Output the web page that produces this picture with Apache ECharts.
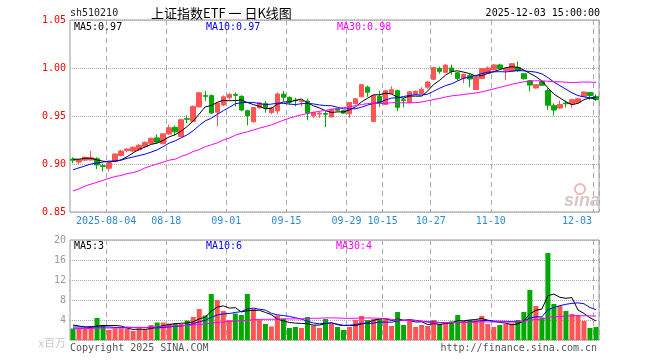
<!DOCTYPE html>
<html><head><meta charset="utf-8">
<script src="https://cdn.jsdelivr.net/npm/echarts@6/dist/echarts.min.js"></script>
<style>html,body{margin:0;padding:0;background:#fff}#c{width:660px;height:360px}</style>
</head><body><div id="c"></div>
<script>
// ---- data ----
const dates = [
 '2025-07-25','2025-07-28','2025-07-29','2025-07-30','2025-07-31','2025-08-01',
 '2025-08-04','2025-08-05','2025-08-06','2025-08-07','2025-08-08',
 '2025-08-11','2025-08-12','2025-08-13','2025-08-14','2025-08-15',
 '2025-08-18','2025-08-19','2025-08-20','2025-08-21','2025-08-22',
 '2025-08-25','2025-08-26','2025-08-27','2025-08-28','2025-08-29',
 '2025-09-01','2025-09-02','2025-09-03','2025-09-04','2025-09-05',
 '2025-09-08','2025-09-09','2025-09-10','2025-09-11','2025-09-12',
 '2025-09-15','2025-09-16','2025-09-17','2025-09-18','2025-09-19',
 '2025-09-22','2025-09-23','2025-09-24','2025-09-25','2025-09-26',
 '2025-09-29','2025-09-30','2025-10-09','2025-10-10',
 '2025-10-13','2025-10-14','2025-10-15','2025-10-16','2025-10-17',
 '2025-10-20','2025-10-21','2025-10-22','2025-10-23','2025-10-24',
 '2025-10-27','2025-10-28','2025-10-29','2025-10-30','2025-10-31',
 '2025-11-03','2025-11-04','2025-11-05','2025-11-06','2025-11-07',
 '2025-11-10','2025-11-11','2025-11-12','2025-11-13','2025-11-14',
 '2025-11-17','2025-11-18','2025-11-19','2025-11-20','2025-11-21',
 '2025-11-24','2025-11-25','2025-11-26','2025-11-27','2025-11-28',
 '2025-12-01','2025-12-02','2025-12-03'
];
const opens = [
 0.9050,0.9020,0.9040,0.9042,0.9055,0.8982,0.8955,0.9025,0.9088,0.9140,
 0.9135,0.9148,0.9184,0.9215,0.9272,0.9211,0.9312,0.9382,0.9285,0.9472,
 0.9444,0.9595,0.9712,0.9712,0.9540,0.9615,0.9690,0.9725,0.9705,0.9555,
 0.9440,0.9585,0.9630,0.9535,0.9552,0.9728,0.9694,0.9665,0.9650,0.9655,
 0.9503,0.9520,0.9525,0.9490,0.9575,0.9555,0.9524,0.9628,0.9700,0.9800,
 0.9444,0.9705,0.9620,0.9735,0.9764,0.9670,0.9642,0.9729,0.9732,0.9800,
 0.9882,0.9995,0.9955,1.0000,0.9950,0.9893,0.9920,0.9775,0.9890,0.9945,
 0.9982,1.0032,0.9975,0.9965,1.0005,0.9940,0.9868,0.9792,0.9858,0.9765,
 0.9608,0.9583,0.9635,0.9625,0.9640,0.9705,0.9745,0.9702
];
const closes = [
 0.9040,0.9045,0.9070,0.9065,0.8990,0.8975,0.9012,0.9104,0.9135,0.9156,
 0.9175,0.9195,0.9225,0.9268,0.9228,0.9314,0.9378,0.9335,0.9461,0.9466,
 0.9600,0.9742,0.9705,0.9531,0.9635,0.9700,0.9725,0.9715,0.9562,0.9505,
 0.9588,0.9636,0.9584,0.9585,0.9729,0.9695,0.9643,0.9660,0.9660,0.9531,
 0.9538,0.9530,0.9518,0.9570,0.9560,0.9530,0.9640,0.9680,0.9826,0.9748,
 0.9712,0.9640,0.9764,0.9774,0.9590,0.9660,0.9752,0.9757,0.9778,0.9855,
 1.0005,0.9965,1.0030,0.9965,0.9890,0.9935,0.9885,0.9900,0.9993,1.0000,
 1.0032,0.9995,0.9995,1.0045,0.9970,0.9888,0.9822,0.9826,0.9820,0.9612,
 0.9562,0.9620,0.9628,0.9670,0.9680,0.9750,0.9712,0.9672
];
const lows = [
 0.9010,0.9000,0.9030,0.9035,0.8948,0.8923,0.8923,0.9020,0.9080,0.9121,
 0.9125,0.9135,0.9178,0.9205,0.9215,0.9205,0.9305,0.9300,0.9280,0.9427,
 0.9440,0.9590,0.9655,0.9520,0.9392,0.9605,0.9670,0.9600,0.9550,0.9402,
 0.9430,0.9575,0.9535,0.9520,0.9520,0.9655,0.9620,0.9600,0.9600,0.9455,
 0.9480,0.9480,0.9385,0.9485,0.9550,0.9525,0.9480,0.9620,0.9695,0.9700,
 0.9440,0.9595,0.9615,0.9730,0.9550,0.9590,0.9635,0.9720,0.9725,0.9780,
 0.9875,0.9940,0.9950,0.9930,0.9870,0.9840,0.9800,0.9770,0.9885,0.9940,
 0.9975,0.9985,0.9875,0.9960,0.9960,0.9880,0.9757,0.9785,0.9815,0.9565,
 0.9505,0.9575,0.9590,0.9585,0.9635,0.9700,0.9670,0.9655
];
const highs = [
 0.9070,0.9050,0.9075,0.9135,0.9070,0.9003,0.9015,0.9110,0.9150,0.9166,
 0.9182,0.9208,0.9238,0.9275,0.9310,0.9320,0.9410,0.9400,0.9470,0.9506,
 0.9610,0.9752,0.9760,0.9725,0.9645,0.9715,0.9740,0.9745,0.9715,0.9565,
 0.9592,0.9645,0.9655,0.9590,0.9745,0.9760,0.9705,0.9690,0.9670,0.9680,
 0.9545,0.9545,0.9548,0.9575,0.9580,0.9560,0.9645,0.9685,0.9835,0.9815,
 0.9720,0.9765,0.9775,0.9810,0.9775,0.9690,0.9760,0.9765,0.9800,0.9860,
 1.0010,1.0015,1.0040,1.0035,0.9960,0.9940,0.9940,0.9905,1.0000,1.0015,
 1.0040,1.0045,1.0010,1.0052,1.0068,0.9945,0.9875,0.9830,0.9865,0.9790,
 0.9630,0.9660,0.9660,0.9680,0.9690,0.9755,0.9750,0.9725
];
// volume in millions of shares
const volumes = [
 2.3,2.2,2.2,2.8,4.4,3.0,2.0,2.3,2.3,2.2,
 1.8,2.3,2.1,3.0,3.5,3.5,3.3,3.2,3.2,3.9,
 4.6,6.2,4.9,9.2,8.0,5.8,4.0,5.3,5.0,9.2,
 6.2,4.0,3.2,2.7,4.9,4.3,2.4,2.6,2.4,4.6,
 2.9,2.4,4.2,3.2,2.6,2.0,2.6,4.0,4.8,4.0,
 4.2,4.2,4.2,2.8,5.6,3.0,4.0,2.6,3.0,2.8,
 4.0,3.2,3.5,3.7,5.0,3.8,4.0,4.0,4.8,3.2,
 2.6,3.0,3.2,3.3,4.0,5.6,10.0,6.8,4.5,17.4,
 7.2,6.8,5.8,5.2,5.0,3.8,2.4,2.6
];
// moving-average values before enough history exists
const ma5Head  = [0.905,0.905,0.906,0.906];
const ma10Head = [0.894,0.896,0.898,0.900,0.901,0.902,0.903,0.903,0.904];
const ma30Head = [0.872,0.874,0.877,0.879,0.881,0.883,0.885,0.887,0.888,0.890,
                  0.891,0.893,0.896,0.898,0.900,0.902,0.904,0.905,0.908,0.910,
                  0.913,0.915,0.918,0.920,0.922,0.925,0.927,0.930,0.932];
const vma5Head  = [3.0,2.8,2.6,2.6];
const vma10Head = [2.6,2.6,2.6,2.6,2.6,2.6,2.6,2.5,2.5];
const vma30Head = [2.3,2.3,2.3,2.3,2.4,2.4,2.4,2.4,2.4,2.4,
                   2.5,2.5,2.5,2.6,2.6,2.7,2.8,2.8,2.9,2.9,
                   3.0,3.1,3.2,3.4,3.5,3.6,3.7,3.8,3.8];
const tickDates = ['2025-08-04','2025-08-18','2025-09-01','2025-09-15','2025-09-29',
                   '2025-10-15','2025-10-27','2025-11-10','2025-12-03'];
const priceTicks = [0.85,0.90,0.95,1.00,1.05];
const volTicks = [0,4,8,12,16,20];
const priceLegend = ['MA5:0.97','MA10:0.97','MA30:0.98'];
const volLegend = ['MA5:3','MA10:6','MA30:4'];
const headerCode = 'sh510210';
const headerTitle = '上证指数ETF 一 日K线图';
const headerTime = '2025-12-03 15:00:00';

// ---- helpers ----
function movingAvg(src, n, head) {
  return src.map((_, i) => {
    if (i < n - 1) return head[i];
    let s = 0;
    for (let k = i - n + 1; k <= i; k++) s += src[k];
    return +(s / n).toFixed(4);
  });
}
const RED = '#ff5555', GREEN = '#00a800';
const MONO = '"DejaVu Sans Mono", "Liberation Mono", monospace';
const tickIdx = tickDates.map(d => dates.indexOf(d));
const isTick = i => tickIdx.indexOf(i) >= 0;
const lastIdx = dates.length - 1;

const candleData = dates.map((d, i) => [opens[i], closes[i], lows[i], highs[i]]);
const volData = volumes.map((v, i) => ({ value: v, itemStyle: { color: closes[i] >= opens[i] ? RED : GREEN } }));

const chart = echarts.init(document.getElementById('c'), null, { renderer: 'canvas' });
const splitX = { show: true, interval: (i) => isTick(i), lineStyle: { color: '#aaa', type: [5, 4], width: 1 } };
const lineS = (name, data, color, xi, yi) => ({
  name, type: 'line', data, xAxisIndex: xi, yAxisIndex: yi, symbol: 'none', smooth: false,
  lineStyle: { color, width: 1 }, itemStyle: { color }, z: 5, silent: true
});

function txt(x, y, text, fill, font, align) {
  return { type: 'text', x, y, silent: true, z: 100,
    style: { text, fill, font, textAlign: align || 'left', align: align || 'left',
             textVerticalAlign: 'middle', verticalAlign: 'middle' } };
}

chart.setOption({
  animation: false,
  backgroundColor: '#fff',
  grid: [
    { left: 70, top: 20, width: 529, height: 192, show: true, borderColor: '#999', borderWidth: 1 },
    { left: 70, top: 240, width: 529, height: 100, show: true, borderColor: '#999', borderWidth: 1 }
  ],
  xAxis: [
    { type: 'category', data: dates, gridIndex: 0, boundaryGap: true,
      axisLine: { show: false }, axisTick: { show: false },
      splitLine: splitX,
      axisLabel: { show: true, interval: (i) => isTick(i), margin: 4, color: '#2e8bd0',
        fontFamily: MONO, fontSize: 10,
        formatter: (v, i) => {
          if (v === tickDates[0]) return '{n|' + v + '}';
          if (v === dates[lastIdx]) return '{r|' + v.slice(5) + '}';
          return '{n|' + v.slice(5) + '}';
        },
        rich: {
          n: { color: '#2e8bd0', fontFamily: MONO, fontSize: 10, padding: [0, 6, 0, 0] },
          r: { color: '#2e8bd0', fontFamily: MONO, fontSize: 10, padding: [0, 38, 0, 0] }
        }
      } },
    { type: 'category', data: dates, gridIndex: 1, boundaryGap: true,
      axisLine: { show: false }, axisTick: { show: false }, axisLabel: { show: false },
      splitLine: splitX }
  ],
  yAxis: [
    { type: 'value', gridIndex: 0, min: priceTicks[0], max: priceTicks[priceTicks.length - 1], interval: 0.05,
      axisLine: { show: false }, axisTick: { show: false },
      axisLabel: { color: '#ff0000', fontFamily: MONO, fontSize: 10, margin: 4, formatter: v => v.toFixed(2) },
      splitLine: { show: true, lineStyle: { color: '#aaa', type: 'dotted', width: 1 } } },
    { type: 'value', gridIndex: 1, min: volTicks[0], max: volTicks[volTicks.length - 1], interval: 4,
      axisLine: { show: false }, axisTick: { show: false },
      axisLabel: { color: '#999', fontFamily: MONO, fontSize: 10, margin: 4,
        formatter: v => v === 0 ? '{u|x百万}' : String(v),
        rich: { u: { color: '#c8c8c8', fontFamily: '"Noto Sans CJK SC", sans-serif', fontSize: 11, padding: [6, 0, 0, 0] } } },
      splitLine: { show: true, lineStyle: { color: '#aaa', type: 'dotted', width: 1 } } }
  ],
  series: [
    { name: 'K', type: 'candlestick', data: candleData, xAxisIndex: 0, yAxisIndex: 0,
      barWidth: 5, silent: true,
      itemStyle: { color: RED, color0: GREEN, borderColor: RED, borderColor0: GREEN, borderWidth: 1 } },
    lineS('MA5', movingAvg(closes, 5, ma5Head), '#000000', 0, 0),
    lineS('MA10', movingAvg(closes, 10, ma10Head), '#0000ff', 0, 0),
    lineS('MA30', movingAvg(closes, 30, ma30Head), '#ff00ff', 0, 0),
    { name: 'VOL', type: 'bar', data: volData, xAxisIndex: 1, yAxisIndex: 1, barWidth: 5, silent: true },
    lineS('VMA5', movingAvg(volumes, 5, vma5Head), '#000000', 1, 1),
    lineS('VMA10', movingAvg(volumes, 10, vma10Head), '#0000ff', 1, 1),
    lineS('VMA30', movingAvg(volumes, 30, vma30Head), '#ff00ff', 1, 1)
  ],
  graphic: [
    txt(70, 13, headerCode, '#222', '10px ' + MONO),
    txt(151, 13, headerTitle, '#000', '13px "Noto Sans CJK SC", sans-serif'),
    txt(600, 13, headerTime, '#000', '10px ' + MONO, 'right'),
    txt(74, 27, priceLegend[0], '#000000', '10px ' + MONO),
    txt(206, 27, priceLegend[1], '#0000ff', '10px ' + MONO),
    txt(337, 27, priceLegend[2], '#ff00ff', '10px ' + MONO),
    txt(74, 246, volLegend[0], '#000000', '10px ' + MONO),
    txt(206, 246, volLegend[1], '#0000ff', '10px ' + MONO),
    txt(336, 246, volLegend[2], '#ff00ff', '10px ' + MONO),
    txt(70, 348, 'Copyright 2025 SINA.COM', '#555', '10px ' + MONO),
    txt(597, 348, 'http://finance.sina.com.cn', '#555', '10px ' + MONO, 'right'),
    { type: 'circle', shape: { cx: 580, cy: 189, r: 5 }, silent: true, z: 1,
      style: { fill: 'none', stroke: '#f3b5b5', lineWidth: 2 } },
    txt(564, 201, 'sina', '#d9c6c6', 'italic bold 18px "Liberation Sans", sans-serif')
  ]
});
</script>
</body></html>
